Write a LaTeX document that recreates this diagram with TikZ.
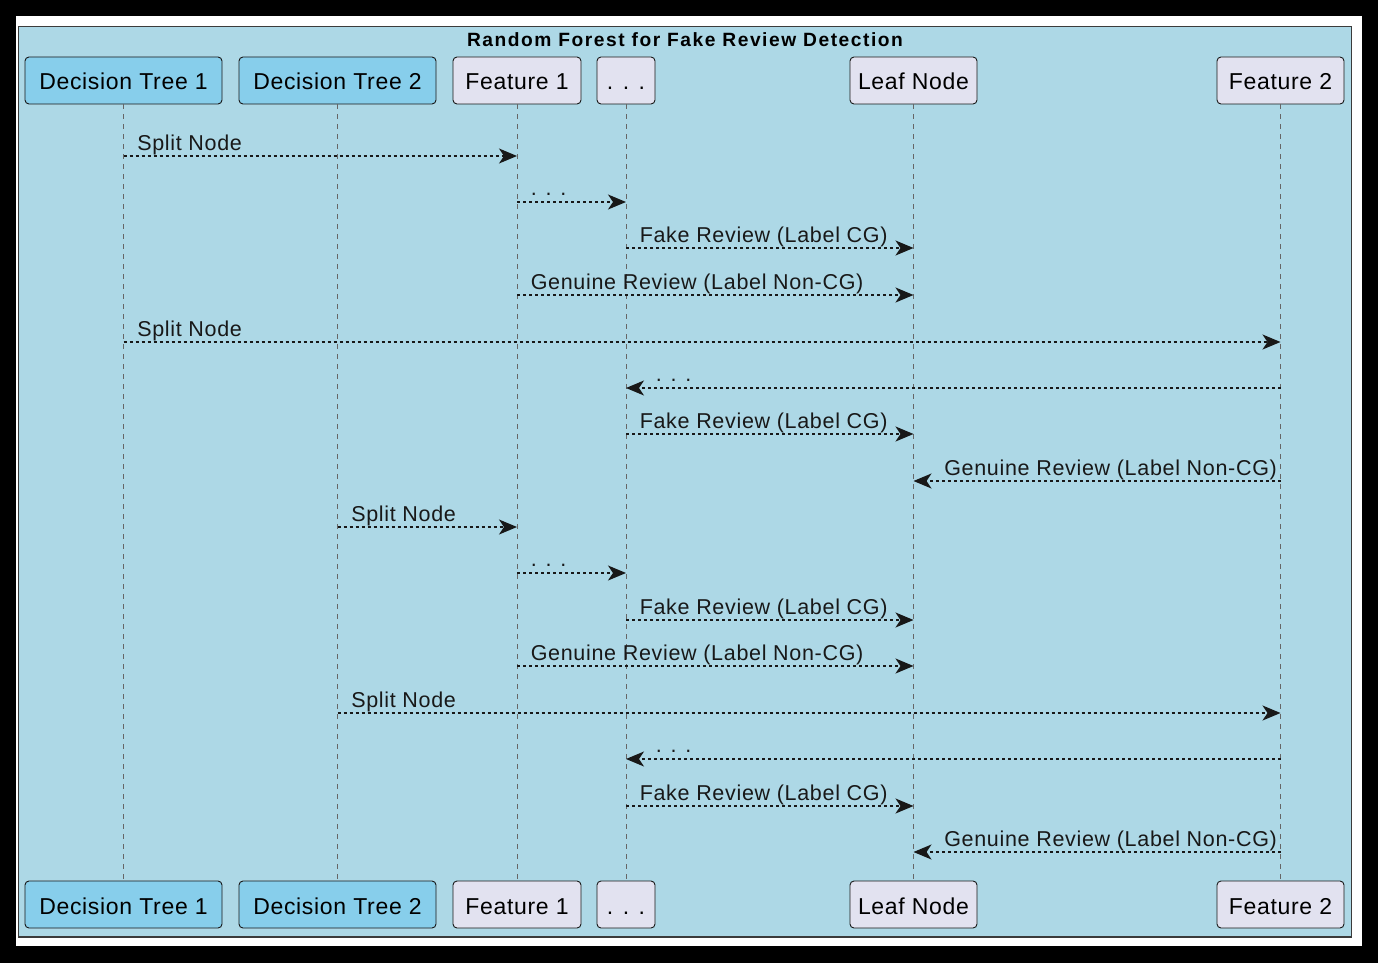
\documentclass[tikz,border=0pt]{standalone}
\usepackage{fontspec}
\setmainfont{Liberation Sans}
\newfontfamily\msgfont{Liberation Sans}[LetterSpace=3.2]
\newfontfamily\partfont{Liberation Sans}[LetterSpace=3]
\newfontfamily\headfont{Liberation Sans}[LetterSpace=8]
\usetikzlibrary{arrows.meta}
\definecolor{frameblue}{HTML}{ADD8E6}
\definecolor{treeblue}{HTML}{87CEEB}
\definecolor{partgray}{HTML}{E2E2F0}
\definecolor{inkline}{HTML}{181818}
\tikzset{
	part/.style={draw=inkline, line width=0.9pt, rounded corners=4pt, fill=partgray, minimum height=47pt, inner sep=0pt, text height=21pt, text depth=2pt, font=\partfont\fontsize{23}{27}\selectfont},
	tree/.style={part, fill=treeblue},
	lifeline/.style={draw=black!60, dash pattern=on 5pt off 5pt, line width=0.9pt},
	msg/.style={draw=inkline, line width=1.5pt, dash pattern=on 3pt off 3pt, -{Stealth[length=18pt,width=15pt,inset=5pt]}},
	msglabel/.style={anchor=base west, inner sep=0pt, font=\msgfont\fontsize{21.5}{25}\selectfont, text=inkline},
}
\begin{document}
\begin{tikzpicture}[x=1pt,y=-1pt]
			\useasboundingbox (0,0) rectangle (1378,963);
			\fill[black] (0,0) rectangle (1378,963);
			\fill[white] (16,16) rectangle (1362,946);
			\draw[fill=frameblue, draw=inkline!85, line width=1.2pt] (18.5,26.5) rectangle (1351.5,937);
			\node[anchor=base, inner sep=0pt, font=\headfont\bfseries\fontsize{19.2}{23}\selectfont] (T_0) at (685,47) {Random Forest for Fake Review Detection};
			% participants, top row
			\node[tree, minimum width=197pt] (P_1_top) at (123.5,80.5) {Decision Tree 1};
			\node[tree, minimum width=197pt] (P_2_top) at (337.5,80.5) {Decision Tree 2};
			\node[part, minimum width=128pt] (P_3_top) at (517,80.5) {Feature 1};
			\node[part, minimum width=58pt] (P_4_top) at (626,80.5) {. . .};
			\node[part, minimum width=127pt] (P_5_top) at (913.5,80.5) {Leaf Node};
			\node[part, minimum width=127pt] (P_6_top) at (1280.5,80.5) {Feature 2};
			% participants, bottom row
			\node[tree, minimum width=197pt] (P_1_bot) at (123.5,904.5) {Decision Tree 1};
			\node[tree, minimum width=197pt] (P_2_bot) at (337.5,904.5) {Decision Tree 2};
			\node[part, minimum width=128pt] (P_3_bot) at (517,904.5) {Feature 1};
			\node[part, minimum width=58pt] (P_4_bot) at (626,904.5) {. . .};
			\node[part, minimum width=127pt] (P_5_bot) at (913.5,904.5) {Leaf Node};
			\node[part, minimum width=127pt] (P_6_bot) at (1280.5,904.5) {Feature 2};
			% lifelines
			\draw[lifeline] (P_1_top) -- (P_1_bot);
			\draw[lifeline] (P_2_top) -- (P_2_bot);
			\draw[lifeline] (P_3_top) -- (P_3_bot);
			\draw[lifeline] (P_4_top) -- (P_4_bot);
			\draw[lifeline] (P_5_top) -- (P_5_bot);
			\draw[lifeline] (P_6_top) -- (P_6_bot);
			% tree 1
			\coordinate (M_1_s) at (P_1_top |- 0,156);
			\coordinate (M_1_e) at (P_3_top |- 0,156);
			\draw[msg] (M_1_s) -- (M_1_e) node[msglabel, pos=0, xshift=13pt, yshift=5.5pt] (L_1) {Split Node};
			\coordinate (M_2_s) at (P_3_top |- 0,202);
			\coordinate (M_2_e) at (P_4_top |- 0,202);
			\draw[msg] (M_2_s) -- (M_2_e) node[msglabel, pos=0, xshift=13pt, yshift=7pt] (L_2) {. . .};
			\coordinate (M_3_s) at (P_4_top |- 0,248);
			\coordinate (M_3_e) at (P_5_top |- 0,248);
			\draw[msg] (M_3_s) -- (M_3_e) node[msglabel, pos=0, xshift=13pt, yshift=5.5pt] (L_3) {Fake Review (Label CG)};
			\coordinate (M_4_s) at (P_3_top |- 0,295);
			\coordinate (M_4_e) at (P_5_top |- 0,295);
			\draw[msg] (M_4_s) -- (M_4_e) node[msglabel, pos=0, xshift=13pt, yshift=5.5pt] (L_4) {Genuine Review (Label Non-CG)};
			\coordinate (M_5_s) at (P_1_top |- 0,342);
			\coordinate (M_5_e) at (P_6_top |- 0,342);
			\draw[msg] (M_5_s) -- (M_5_e) node[msglabel, pos=0, xshift=13pt, yshift=5.5pt] (L_5) {Split Node};
			\coordinate (M_6_s) at (P_6_top |- 0,388);
			\coordinate (M_6_e) at (P_4_top |- 0,388);
			\draw[msg] (M_6_s) -- (M_6_e) node[msglabel, pos=1, xshift=29pt, yshift=7pt] (L_6) {. . .};
			\coordinate (M_7_s) at (P_4_top |- 0,434);
			\coordinate (M_7_e) at (P_5_top |- 0,434);
			\draw[msg] (M_7_s) -- (M_7_e) node[msglabel, pos=0, xshift=13pt, yshift=5.5pt] (L_7) {Fake Review (Label CG)};
			\coordinate (M_8_s) at (P_6_top |- 0,481);
			\coordinate (M_8_e) at (P_5_top |- 0,481);
			\draw[msg] (M_8_s) -- (M_8_e) node[msglabel, pos=1, xshift=30pt, yshift=5.5pt] (L_8) {Genuine Review (Label Non-CG)};
			% tree 2
			\coordinate (M_9_s) at (P_2_top |- 0,527);
			\coordinate (M_9_e) at (P_3_top |- 0,527);
			\draw[msg] (M_9_s) -- (M_9_e) node[msglabel, pos=0, xshift=13pt, yshift=5.5pt] (L_9) {Split Node};
			\coordinate (M_10_s) at (P_3_top |- 0,573);
			\coordinate (M_10_e) at (P_4_top |- 0,573);
			\draw[msg] (M_10_s) -- (M_10_e) node[msglabel, pos=0, xshift=13pt, yshift=7pt] (L_10) {. . .};
			\coordinate (M_11_s) at (P_4_top |- 0,620);
			\coordinate (M_11_e) at (P_5_top |- 0,620);
			\draw[msg] (M_11_s) -- (M_11_e) node[msglabel, pos=0, xshift=13pt, yshift=5.5pt] (L_11) {Fake Review (Label CG)};
			\coordinate (M_12_s) at (P_3_top |- 0,666);
			\coordinate (M_12_e) at (P_5_top |- 0,666);
			\draw[msg] (M_12_s) -- (M_12_e) node[msglabel, pos=0, xshift=13pt, yshift=5.5pt] (L_12) {Genuine Review (Label Non-CG)};
			\coordinate (M_13_s) at (P_2_top |- 0,713);
			\coordinate (M_13_e) at (P_6_top |- 0,713);
			\draw[msg] (M_13_s) -- (M_13_e) node[msglabel, pos=0, xshift=13pt, yshift=5.5pt] (L_13) {Split Node};
			\coordinate (M_14_s) at (P_6_top |- 0,759);
			\coordinate (M_14_e) at (P_4_top |- 0,759);
			\draw[msg] (M_14_s) -- (M_14_e) node[msglabel, pos=1, xshift=29pt, yshift=7pt] (L_14) {. . .};
			\coordinate (M_15_s) at (P_4_top |- 0,806);
			\coordinate (M_15_e) at (P_5_top |- 0,806);
			\draw[msg] (M_15_s) -- (M_15_e) node[msglabel, pos=0, xshift=13pt, yshift=5.5pt] (L_15) {Fake Review (Label CG)};
			\coordinate (M_16_s) at (P_6_top |- 0,852);
			\coordinate (M_16_e) at (P_5_top |- 0,852);
			\draw[msg] (M_16_s) -- (M_16_e) node[msglabel, pos=1, xshift=30pt, yshift=5.5pt] (L_16) {Genuine Review (Label Non-CG)};
\end{tikzpicture}
\end{document}
